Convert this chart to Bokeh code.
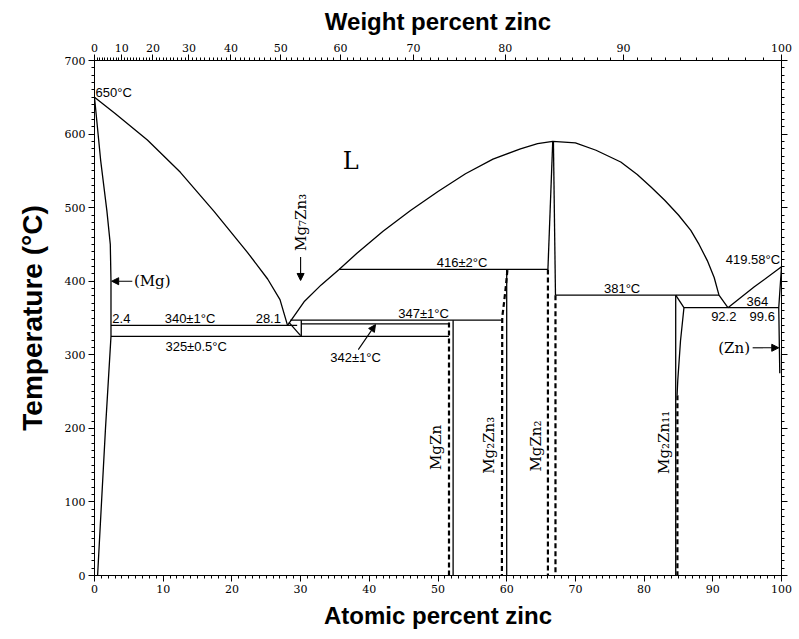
from bokeh.plotting import figure
from bokeh.models import (Range1d, LinearAxis, FixedTicker, CustomJSTickFormatter,
                          Label, Arrow, NormalHead)
from bokeh.embed import file_html
from bokeh.resources import INLINE

# ---------------- data ----------------
MG_MASS = 24.305
ZN_MASS = 65.38

weight_pct_ticks = [0, 10, 20, 30, 40, 50, 60, 70, 80, 90, 100]
weight_pct_minor = list(range(0, 101))
atomic_pct_ticks = list(range(0, 101, 10))
atomic_pct_minor = list(range(0, 101))
temp_ticks = list(range(0, 701, 100))
temp_minor = list(range(0, 701, 10))

# Mg-rich liquidus
mg_liq_x = [0, 3.0, 7.7, 12.5, 17.4, 22.2, 25.2, 27.0, 28.1]
mg_liq_t = [650, 628, 592, 548, 495, 440, 403, 375, 340]
# (Mg) solidus + solvus
mg_sol_x = [0, 0.9, 1.8, 2.3, 2.4, 2.4, 1.6, 0.45]
mg_sol_t = [650, 564, 496, 450, 400, 325, 200, 0]
# central liquidus dome (eutectic 28.1 -> MgZn2 -> 92.2)
dome_x = [28.1, 30.5, 33.0, 35.6, 38.2, 42, 46, 50, 54, 58, 62, 64.5, 66.7,
          70, 73, 76.6, 79, 81, 83, 85, 86.8, 88, 89.2, 90.2, 90.9, 92.2]
dome_t = [340, 372, 395, 416, 438, 468, 496, 522, 546, 566, 580, 587, 590,
          588, 578, 562, 545, 528, 510, 490, 469, 450, 428, 405, 381, 364]
# Zn-rich liquidus
zn_liq_x = [92.2, 96.0, 100]
zn_liq_t = [364, 392, 419.58]
# (Zn) solidus + solvus
zn_sol_x = [100, 99.6, 99.75]
zn_sol_t = [419.58, 364, 275]

# isotherms
iso_t = [340, 325, 347, 342, 416, 381, 364]
iso_x0 = [2.4, 2.4, 28.5, 30.1, 35.6, 67.1, 85.8]
iso_x1 = [29.5, 51.6, 59.3, 51.6, 66.0, 90.9, 99.6]

# Mg7Zn3 small field
mg7_x = [28.3, 30.0]
mg7_t = [344, 326]
mg7v_x = [30.1, 30.1]
mg7v_t = [347, 325]

# compound boundaries (solid)
mgzn_x = [52.2, 52.2]
mgzn_t = [347, 0]
mg2zn3_x = [60.0, 60.0]
mg2zn3_t = [416, 0]
mgzn2_left_x = [66.7, 66.0]
mgzn2_left_t = [590, 416]
mgzn2_right_x = [66.8, 67.1]
mgzn2_right_t = [590, 381]
mg2zn11_x = [84.6, 84.6]
mg2zn11_t = [381, 0]
mg2zn11_r_x = [84.6, 85.8, 85.3, 84.9, 84.8]
mg2zn11_r_t = [381, 364, 319, 265, 245]

# dashed boundaries
mgzn_d_x = [51.6, 51.6]
mgzn_d_t = [344, 0]
mg2zn3_d_x = [60.1, 59.9, 59.6, 59.35, 59.3]
mg2zn3_d_t = [415, 395, 370, 351, 0]
mgzn2_dl_x = [66.0, 66.0]
mgzn2_dl_t = [416, 0]
mgzn2_dr_x = [67.1, 67.1]
mgzn2_dr_t = [381, 0]
mg2zn11_d_x = [84.85, 84.85]
mg2zn11_d_t = [245, 0]


def wt_to_at(w):
    nz = w / ZN_MASS
    nm = (100 - w) / MG_MASS
    return 100.0 * nz / (nz + nm)


# ---------------- figure ----------------
p = figure(width=799, height=639, x_range=Range1d(0, 100), y_range=Range1d(0, 700),
           output_backend="svg", toolbar_location=None,
           min_border_left=94, min_border_right=18, min_border_top=60, min_border_bottom=64)
p.xgrid.visible = False
p.ygrid.visible = False
p.outline_line_color = "black"
p.outline_line_width = 1
p.background_fill_color = "white"
p.border_fill_color = "white"


def style_axis(ax, label_size="24px"):
    ax.axis_line_color = "black"
    ax.major_tick_line_color = "black"
    ax.minor_tick_line_color = "black"
    ax.major_tick_out = 6
    ax.major_tick_in = 0
    ax.minor_tick_out = 3
    ax.minor_tick_in = 0
    ax.major_label_text_font = "DejaVu Serif"
    ax.major_label_text_font_size = "11px"
    ax.major_label_text_color = "black"
    ax.major_label_standoff = 3
    ax.axis_label_text_font = "Liberation Sans"
    ax.axis_label_text_font_style = "bold"
    ax.axis_label_text_font_size = label_size
    ax.axis_label_text_color = "black"


xb = p.xaxis[0]
xb.ticker = FixedTicker(ticks=atomic_pct_ticks, minor_ticks=atomic_pct_minor)
xb.axis_label = "Atomic percent zinc"
style_axis(xb)
xb.axis_label_standoff = 6

yl = p.yaxis[0]
yl.ticker = FixedTicker(ticks=temp_ticks, minor_ticks=temp_minor)
yl.axis_label = "Temperature (°C)"
style_axis(yl, "28px")
yl.axis_label_standoff = 14

top = LinearAxis(
    ticker=FixedTicker(ticks=[wt_to_at(w) for w in weight_pct_ticks],
                       minor_ticks=[wt_to_at(w) for w in weight_pct_minor]),
    formatter=CustomJSTickFormatter(code="""
        const a = tick;
        const w = 100*a*%f/(a*%f + (100-a)*%f);
        return Math.round(w).toFixed(0);
    """ % (ZN_MASS, ZN_MASS, MG_MASS)),
    axis_label="Weight percent zinc")
style_axis(top)
top.axis_label_standoff = 6
p.add_layout(top, "above")

right = LinearAxis(ticker=FixedTicker(ticks=temp_ticks, minor_ticks=temp_minor),
                   formatter=CustomJSTickFormatter(code="return '';"))
style_axis(right)
right.major_label_standoff = 0
p.add_layout(right, "right")

# ---------------- lines ----------------
LW = 1.3
solid = [(mg_liq_x, mg_liq_t), (mg_sol_x, mg_sol_t), (dome_x, dome_t),
         (zn_liq_x, zn_liq_t), (zn_sol_x, zn_sol_t), (mg7_x, mg7_t), (mg7v_x, mg7v_t),
         (mgzn_x, mgzn_t), (mg2zn3_x, mg2zn3_t), (mgzn2_left_x, mgzn2_left_t),
         (mgzn2_right_x, mgzn2_right_t), (mg2zn11_x, mg2zn11_t),
         (mg2zn11_r_x, mg2zn11_r_t)]
for xs, ts in solid:
    p.line(xs, ts, line_color="black", line_width=LW)

p.segment(x0=iso_x0, y0=iso_t, x1=iso_x1, y1=iso_t, line_color="black", line_width=LW)

dashed = [(mgzn_d_x, mgzn_d_t), (mg2zn3_d_x, mg2zn3_d_t), (mgzn2_dl_x, mgzn2_dl_t),
          (mgzn2_dr_x, mgzn2_dr_t), (mg2zn11_d_x, mg2zn11_d_t)]
for xs, ts in dashed:
    p.line(xs, ts, line_color="black", line_width=2.2, line_dash="5 3")

# ---------------- annotations ----------------
SANS = "Liberation Sans"
SERIF = "DejaVu Serif"


def add_label(x, y, text, size="13px", font=SANS, align="center", angle=0.0,
              baseline="middle", style="normal"):
    p.add_layout(Label(x=x, y=y, text=text, text_font=font, text_font_size=size,
                       text_align=align, text_baseline=baseline, angle=angle,
                       text_color="black", text_font_style=style))


add_label(0.15, 657, "650°C", align="left")
add_label(2.6, 349, "2.4", align="left")
add_label(13.9, 349, "340±1°C")
add_label(25.3, 349, "28.1")
add_label(14.8, 311, "325±0.5°C")
add_label(47.9, 356, "347±1°C")
add_label(38.0, 296, "342±1°C")
add_label(53.5, 426, "416±2°C")
add_label(76.8, 390, "381°C")
add_label(95.85, 429, "419.58°C")
add_label(96.5, 373, "364")
add_label(91.6, 352, "92.2")
add_label(97.2, 352, "99.6")
add_label(37.3, 564, "L", size="24px", font=SERIF)
add_label(8.4, 400, "(Mg)", size="15px", font=SERIF)
add_label(93.1, 309.5, "(Zn)", size="15px", font=SERIF)
add_label(30.0, 480, "Mg₇Zn₃", size="15px", font=SERIF, angle=1.5708)
add_label(49.75, 174, "MgZn", size="15px", font=SERIF, angle=1.5708)
add_label(57.4, 177, "Mg₂Zn₃", size="15px", font=SERIF, angle=1.5708)
add_label(64.3, 176, "MgZn₂", size="15px", font=SERIF, angle=1.5708)
add_label(82.9, 181, "Mg₂Zn₁₁", size="15px", font=SERIF, angle=1.5708)

p.add_layout(Label(x=0, y=0, x_offset=5, y_offset=-43, text="Mg", text_font=SANS,
                   text_font_style="bold", text_font_size="25px", text_align="center",
                   text_baseline="middle", text_color="black"))
p.add_layout(Label(x=100, y=0, x_offset=-4, y_offset=-43, text="Zn", text_font=SANS,
                   text_font_style="bold", text_font_size="25px", text_align="center",
                   text_baseline="middle", text_color="black"))


def add_arrow(x0, y0, x1, y1):
    p.add_layout(Arrow(end=NormalHead(size=7, fill_color="black", line_color="black"),
                       x_start=x0, y_start=y0, x_end=x1, y_end=y1,
                       line_color="black", line_width=1.1))


add_arrow(5.5, 400, 2.5, 400)
add_arrow(95.8, 309.5, 99.6, 309.5)
add_arrow(30.0, 433, 30.0, 401)
add_arrow(38.4, 307, 40.9, 341)

open("out.html", "w").write(file_html(p, INLINE))
